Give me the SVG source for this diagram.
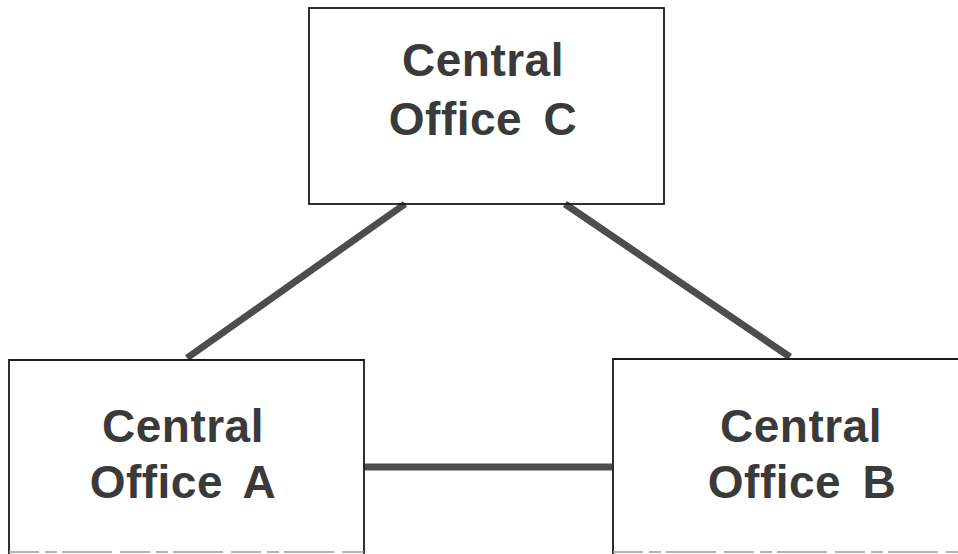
<svg xmlns="http://www.w3.org/2000/svg" width="958" height="554" viewBox="0 0 958 554">
  <style>
    .box { fill: none; stroke: #1a1a1a; stroke-width: 1.8; }
    .bottom { fill: none; stroke: #9a9a9a; stroke-width: 1.5; stroke-dasharray: 30 6 12 5 50 8; }
    .lbl { font-family: "Liberation Sans", Arial, sans-serif; font-weight: bold; font-size: 46px; fill: #3a3a3a; text-anchor: middle; letter-spacing: 0.5px; word-spacing: 8px; }
    .link { stroke: #4d4d4d; stroke-width: 7; fill: none; stroke-linecap: butt; }
  </style>
  <rect width="958" height="554" fill="#ffffff"/>
  <g id="connectors">
    <line class="link" x1="187" y1="358" x2="405" y2="204"/>
    <line class="link" x1="565" y1="204" x2="790" y2="357"/>
    <line class="link" x1="364" y1="467" x2="612" y2="467"/>
  </g>
  <g id="central-office-c">
    <rect class="box" x="309" y="8" width="355" height="196"/>
    <text class="lbl" x="483" y="76">Central</text>
    <text class="lbl" x="483" y="135">Office C</text>
  </g>
  <g id="central-office-a">
    <path class="box" d="M9,554 V360 H364 V554"/>
    <line class="bottom" x1="9" y1="552" x2="364" y2="552"/>
    <text class="lbl" x="183" y="442">Central</text>
    <text class="lbl" x="183" y="498">Office A</text>
  </g>
  <g id="central-office-b">
    <path class="box" d="M613,554 V359 H958"/>
    <line class="bottom" x1="613" y1="552" x2="958" y2="552"/>
    <text class="lbl" x="801" y="442">Central</text>
    <text class="lbl" x="802" y="498">Office B</text>
  </g>
</svg>
